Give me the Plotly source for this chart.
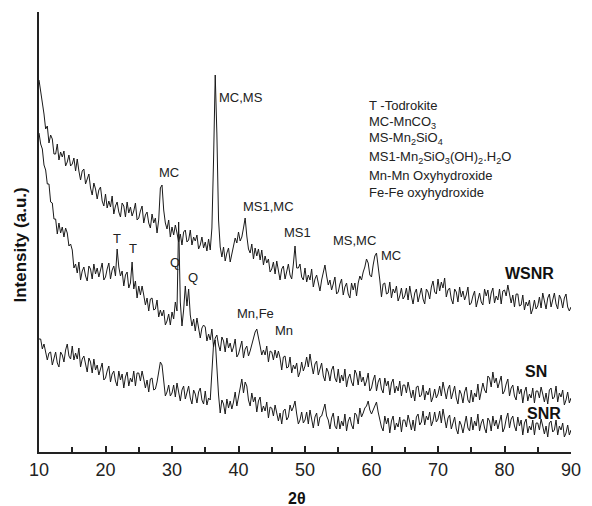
import plotly.graph_objects as go

# 2-theta sampling grid
TWO_THETA_START = 10.0
TWO_THETA_STEP = 0.25

# Intensities (a.u.), one value per 0.25 deg step from 10 to 90 deg (rows of 5 deg)
wsnr = [
    372,360,353,338,323,326,309,317,313,298,298,308,292,300,295,301,286,290,297,286,
    288,294,281,293,281,272,281,283,268,274,278,264,257,269,263,253,262,265,251,246,
    258,244,251,245,256,238,246,250,240,235,249,246,235,250,239,245,236,241,249,232,
    234,241,246,229,237,240,229,224,238,229,234,219,232,264,267,242,229,223,232,215,
    225,217,227,219,210,218,207,220,222,210,212,222,207,215,211,217,203,207,215,204,
    210,201,213,202,224,292,377,318,232,205,195,205,191,199,204,190,197,204,214,209,
    220,211,215,224,234,216,203,199,208,193,204,196,203,192,202,187,196,189,193,180,
    183,190,178,191,180,172,183,186,173,181,188,177,173,188,206,184,184,188,175,172,
    184,170,177,172,183,165,173,177,167,161,172,180,187,176,167,172,162,168,175,158,
    160,168,173,157,165,169,158,154,169,162,169,156,169,176,172,180,185,193,189,177,
    175,187,196,199,187,172,155,168,169,158,159,170,154,163,159,166,151,156,164,153,
    156,164,152,166,156,148,159,163,150,158,164,153,148,163,160,153,165,171,160,158,
    173,161,170,164,174,155,162,164,153,148,163,160,150,165,155,161,152,157,165,147,
    149,156,161,145,154,159,150,147,163,156,162,148,159,164,149,156,152,163,148,161,
    162,156,167,159,149,157,145,158,158,146,147,157,142,150,146,152,138,143,152,143,
    146,155,144,159,149,143,154,158,145,153,159,148,143,157,153,144,154,158,145,141,
    145,
]

sn = [
    319,308,303,287,282,268,268,250,249,233,233,218,229,219,225,215,224,219,206,208,
    202,184,188,179,190,172,181,185,176,171,186,183,173,188,178,184,175,181,189,172,
    175,183,189,173,182,186,176,203,185,176,181,166,177,180,164,169,190,163,171,154,
    166,157,166,157,147,154,141,153,154,142,143,152,135,142,136,142,127,131,138,127,
    140,133,150,141,230,150,126,142,166,146,163,137,126,133,121,134,123,114,124,127,
    125,111,118,112,123,105,114,117,107,101,115,111,100,114,104,109,100,105,113,95,
    98,105,111,94,103,106,96,101,108,113,120,123,112,106,97,102,97,106,90,101,
    100,92,102,94,101,94,82,95,96,84,85,95,79,87,83,89,75,80,90,81,
    86,95,85,98,87,78,88,91,77,84,89,76,71,84,80,71,82,86,74,70,
    83,69,77,71,83,65,74,78,70,66,82,78,67,81,70,75,66,71,79,61,
    64,72,77,61,70,74,63,59,74,66,71,57,69,73,59,66,61,71,56,67,
    67,59,70,62,54,62,51,65,66,55,57,67,52,61,57,64,50,55,63,54,
    58,66,56,70,60,53,63,67,53,61,66,54,48,62,58,49,60,65,52,49,
    62,50,59,55,68,52,63,69,62,59,76,74,65,80,69,74,64,69,76,58,
    61,68,73,56,64,67,56,52,66,58,63,49,60,65,51,58,54,64,49,61,
    61,54,65,58,50,59,48,62,64,53,55,66,50,59,55,62,47,52,60,49,
    54,
]

snr = [
    113,113,103,108,100,92,99,100,87,94,100,89,85,100,97,90,102,108,96,93,
    106,92,99,93,104,85,93,96,86,80,94,90,79,93,82,87,77,82,89,72,
    74,81,86,70,78,81,71,66,81,72,78,64,75,80,66,74,70,81,66,79,
    79,71,81,73,64,72,60,73,74,62,63,70,80,90,87,70,56,60,67,56,
    59,67,55,69,59,51,62,66,53,60,66,54,48,62,58,49,60,64,52,48,
    61,47,54,52,80,108,112,82,57,39,52,48,38,53,44,51,43,50,60,46,
    55,65,73,59,70,66,52,46,59,50,55,40,51,55,40,46,41,50,34,45,
    44,36,47,39,31,39,28,41,43,32,35,47,41,45,51,38,28,32,40,29,
    32,40,28,42,32,24,35,39,26,35,36,41,48,36,32,23,34,39,26,23,
    36,23,31,26,38,21,31,35,27,23,39,37,28,44,35,39,44,46,51,42,
    38,42,47,50,40,31,25,21,36,28,34,19,31,36,22,29,25,35,20,32,
    32,25,37,30,22,32,21,35,38,27,30,41,27,36,32,40,26,31,40,30,
    33,41,29,43,32,24,34,37,23,30,35,23,18,31,27,19,30,36,24,21,
    35,22,31,26,38,21,29,33,24,19,34,31,21,36,26,32,23,29,37,20,
    24,33,39,24,33,36,26,21,35,26,32,17,29,33,19,26,22,32,17,29,
    29,22,33,26,18,26,15,29,31,20,22,32,17,26,22,29,15,19,27,17,
    22,
]

x_ticks = [10, 20, 30, 40, 50, 60, 70, 80, 90]

# peak labels: (text, 2theta, intensity)
peak_labels = [
    ("MC,MS", 40.4, 355), ("MC", 29.6, 280), ("MS1,MC", 44.5, 246),
    ("MS1", 48.8, 220), ("MS,MC", 57.4, 212), ("MC", 63.0, 197),
    ("T", 21.7, 214), ("T", 24.2, 204), ("Q", 30.4, 190), ("Q", 33.2, 175),
    ("Mn,Fe", 42.5, 139), ("Mn", 46.8, 122),
]
sample_labels = [("WSNR", 83.7, 179), ("SN", 84.7, 81), ("SNR", 85.9, 39)]
key_lines = [
    "T -Todrokite",
    "MC-MnCO<sub>3</sub>",
    "MS-Mn<sub>2</sub>SiO<sub>4</sub>",
    "MS1-Mn<sub>2</sub>SiO<sub>3</sub>(OH)<sub>2</sub>.H<sub>2</sub>O",
    "Mn-Mn Oxyhydroxide",
    "Fe-Fe oxyhydroxide",
]
key_y = [347, 330, 314, 295, 277, 260]

FONT = "Liberation Sans, Arial, sans-serif"
LINE = "#1a1a1a"

for arr in (wsnr, sn, snr):
    assert len(arr) == 321, len(arr)

fig = go.Figure()
for name, ys in [("WSNR", wsnr), ("SN", sn), ("SNR", snr)]:
    fig.add_trace(go.Scatter(x0=TWO_THETA_START, dx=TWO_THETA_STEP, y=ys, mode="lines",
                             name=name, line=dict(color=LINE, width=1), showlegend=False))

ann = []
for t, x, y in peak_labels:
    ann.append(dict(x=x, y=y, text=t, showarrow=False, xanchor="center", yanchor="middle",
                    font=dict(family=FONT, size=13, color="#222")))
for t, x, y in sample_labels:
    ann.append(dict(x=x, y=y, text="<b>%s</b>" % t, showarrow=False, xanchor="center",
                    yanchor="middle", font=dict(family=FONT, size=16, color="#111")))
for t, y in zip(key_lines, key_y):
    ann.append(dict(x=59.3, y=y, text=t, showarrow=False, xanchor="left", yanchor="middle",
                    font=dict(family=FONT, size=13, color="#222")))
ann.append(dict(xref="paper", yref="paper", x=-0.035, y=0.470, text="<b>Intensity (a.u.)</b>",
                textangle=-90, showarrow=False, xanchor="center", yanchor="middle",
                font=dict(family=FONT, size=17, color="#111")))
ann.append(dict(xref="x", yref="paper", x=48.8, y=-0.105, text="<b>2θ</b>",
                showarrow=False, xanchor="center", yanchor="middle",
                font=dict(family=FONT, size=16, color="#111")))

fig.update_layout(
    width=592, height=506,
    margin=dict(l=39, r=11, t=12, b=54),
    paper_bgcolor="white", plot_bgcolor="white",
    annotations=ann,
    xaxis=dict(range=[10, 90], tickvals=x_ticks, ticks="inside", ticklen=6, tickwidth=1.5,
               tickcolor="#222", showline=True, linecolor="#222", linewidth=2,
               showgrid=False, zeroline=False,
               minor=dict(dtick=5, ticks="inside", ticklen=5, tickwidth=1.5, tickcolor="#222"),
               tickfont=dict(family=FONT, size=18, color="#222")),
    yaxis=dict(range=[0, 440], showticklabels=False, ticks="", showline=True,
               linecolor="#222", linewidth=2, showgrid=False, zeroline=False),
)

fig.write_html("out.html")
